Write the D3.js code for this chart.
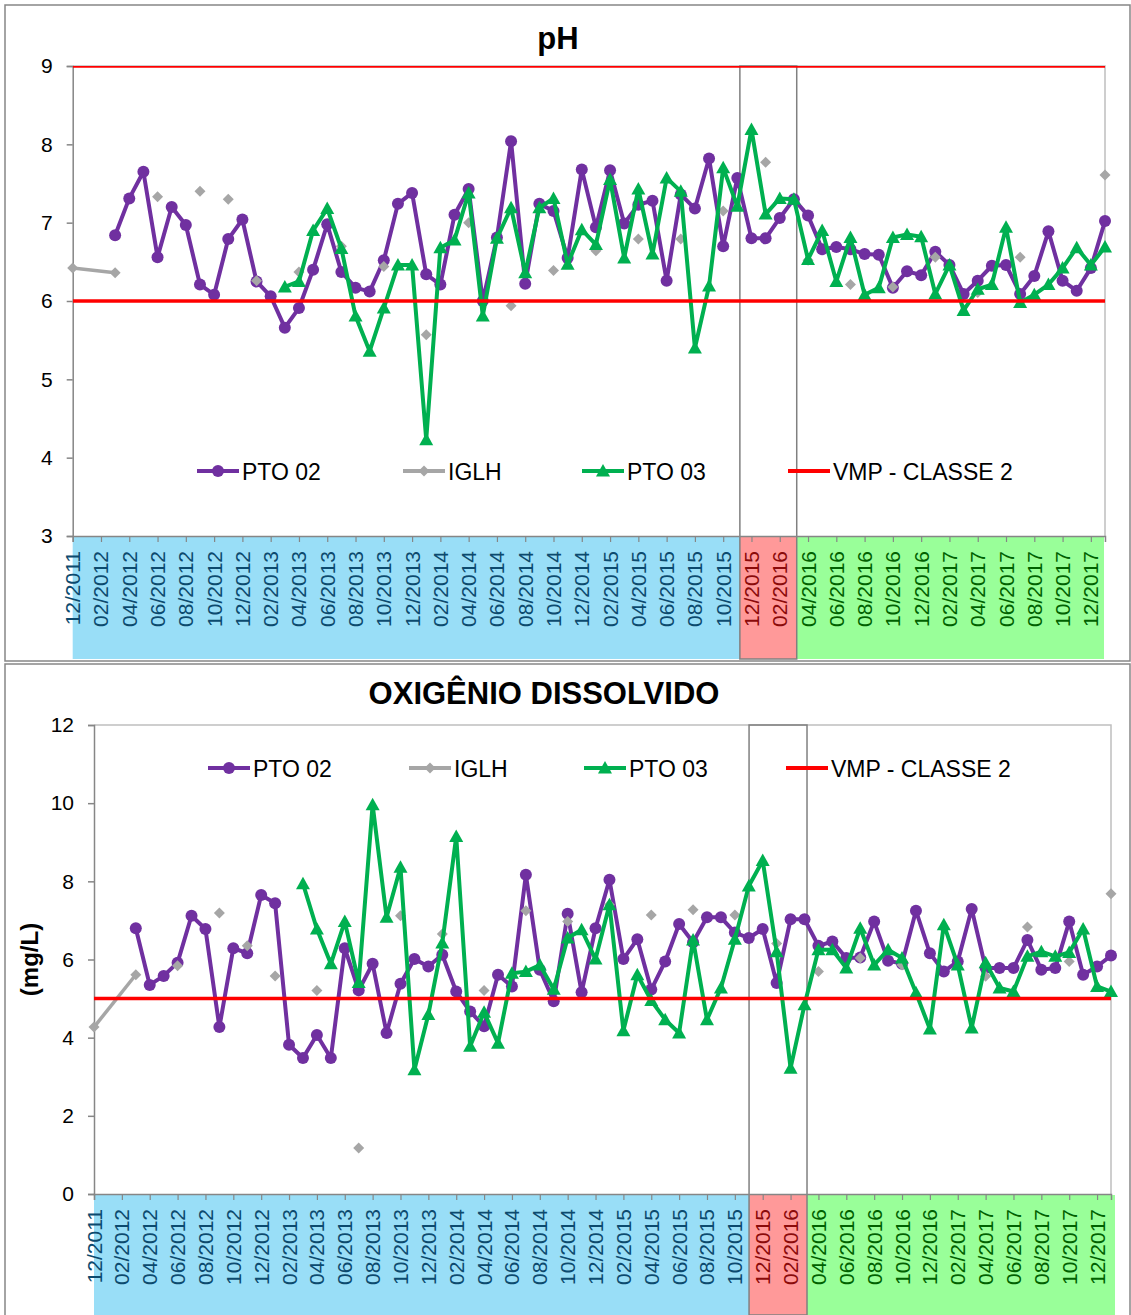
<!DOCTYPE html>
<html>
<head>
<meta charset="utf-8">
<script src="https://cdn.jsdelivr.net/npm/d3@7"></script>
<style>
  body { margin: 0; background: #fff; }
  text { font-family: "Liberation Sans", Arial, sans-serif; }
</style>
</head>
<body>
<svg id="chart" width="1131" height="1315"></svg>
<script>
// Months on the category axis (12/2011 .. 01/2018), one point per month
const months = [
  '12/2011',
  '01/2012','02/2012','03/2012','04/2012','05/2012','06/2012','07/2012','08/2012','09/2012','10/2012','11/2012','12/2012',
  '01/2013','02/2013','03/2013','04/2013','05/2013','06/2013','07/2013','08/2013','09/2013','10/2013','11/2013','12/2013',
  '01/2014','02/2014','03/2014','04/2014','05/2014','06/2014','07/2014','08/2014','09/2014','10/2014','11/2014','12/2014',
  '01/2015','02/2015','03/2015','04/2015','05/2015','06/2015','07/2015','08/2015','09/2015','10/2015','11/2015','12/2015',
  '01/2016','02/2016','03/2016','04/2016','05/2016','06/2016','07/2016','08/2016','09/2016','10/2016','11/2016','12/2016',
  '01/2017','02/2017','03/2017','04/2017','05/2017','06/2017','07/2017','08/2017','09/2017','10/2017','11/2017','12/2017',
  '01/2018'
];

// pH
const phPto02 = [
  null, null, null, 6.84, 7.31, 7.65, 6.56, 7.20, 6.97, 6.21, 6.08, 6.79, 7.04,
  6.25, 6.06, 5.66, 5.91, 6.40, 6.98, 6.37, 6.17, 6.12, 6.52, 7.24, 7.38,
  6.34, 6.21, 7.10, 7.43, 6.00, 6.81, 8.04, 6.22, 7.24, 7.15, 6.55, 7.68,
  6.94, 7.67, 6.99, 7.23, 7.28, 6.26, 7.36, 7.18, 7.82, 6.70, 7.57, 6.80,
  6.80, 7.06, 7.30, 7.09, 6.66, 6.69, 6.66, 6.60, 6.59, 6.17, 6.38, 6.33,
  6.63, 6.46, 6.09, 6.26, 6.45, 6.46, 6.09, 6.32, 6.89, 6.26, 6.13, 6.42,
  7.02
];
const phIglh = [
  6.42, null, null, 6.36, null, null, 7.33, null, null, 7.40, null, 7.30, null,
  6.26, null, null, 6.37, null, null, 6.70, null, null, 6.44, null, null,
  5.57, null, null, 7.00, null, null, 5.94, null, null, 6.39, null, null,
  6.64, null, null, 6.79, null, null, 6.79, null, null, 7.15, null, null,
  7.77, null, null, 6.52, null, null, 6.21, null, null, 6.18, null, null,
  6.56, null, null, 6.11, null, null, 6.56, null, null, null, null, null,
  7.61
];
const phPto03 = [
  null, null, null, null, null, null, null, null, null, null, null, null, null,
  null, null, 6.18, 6.25, 6.90, 7.18, 6.67, 5.81, 5.36, 5.91, 6.46, 6.46,
  4.23, 6.68, 6.78, 7.38, 5.81, 6.80, 7.19, 6.36, 7.19, 7.31, 6.47, 6.91,
  6.72, 7.55, 6.55, 7.43, 6.60, 7.57, 7.40, 5.40, 6.19, 7.70, 7.21, 8.19,
  7.11, 7.31, 7.30, 6.53, 6.90, 6.25, 6.81, 6.08, 6.17, 6.81, 6.85, 6.82,
  6.09, 6.46, 5.88, 6.15, 6.21, 6.94, 5.98, 6.08, 6.21, 6.42, 6.68, 6.46,
  6.69
];
const phVmp = [6, 9];
const phTicks = [3, 4, 5, 6, 7, 8, 9];

// Oxigênio dissolvido (mg/L)
const odPto02 = [
  null, null, null, 6.80, 5.35, 5.58, 5.92, 7.12, 6.78, 4.27, 6.29, 6.16, 7.65,
  7.44, 3.82, 3.48, 4.07, 3.48, 6.29, 5.21, 5.89, 4.12, 5.38, 6.01, 5.82,
  6.12, 5.18, 4.67, 4.29, 5.61, 5.31, 8.17, 5.74, 4.93, 7.17, 5.16, 6.80,
  8.04, 6.01, 6.52, 5.23, 5.95, 6.91, 6.44, 7.08, 7.08, 6.69, 6.55, 6.78,
  5.40, 7.03, 7.03, 6.35, 6.46, 6.04, 6.05, 6.97, 5.97, 5.89, 7.25, 6.16,
  5.69, 5.95, 7.29, 5.78, 5.78, 5.78, 6.50, 5.74, 5.78, 6.97, 5.61, 5.82,
  6.10
];
const odIglh = [
  4.27, null, null, 5.61, null, null, 5.84, null, null, 7.19, null, 6.35, null,
  5.58, null, null, 5.21, null, null, 1.18, null, null, 7.12, null, null,
  6.65, null, null, 5.21, null, null, 7.25, null, null, 6.97, null, null,
  7.40, null, null, 7.14, null, null, 7.27, null, null, 7.14, null, null,
  6.41, null, null, 5.69, null, null, 6.04, null, null, 5.86, null, null,
  6.80, null, null, 5.57, null, null, 6.83, null, null, 5.95, null, null,
  7.68
];
const odPto03 = [
  null, null, null, null, null, null, null, null, null, null, null, null, null,
  null, null, 7.94, 6.78, 5.89, 6.97, 5.41, 9.96, 7.08, 8.36, 3.18, 4.59,
  6.42, 9.15, 3.78, 4.65, 3.86, 5.65, 5.69, 5.86, 5.24, 6.55, 6.76, 6.01,
  7.40, 4.18, 5.61, 4.95, 4.46, 4.12, 6.50, 4.46, 5.27, 6.52, 7.88, 8.53,
  6.20, 3.22, 4.84, 6.25, 6.25, 5.78, 6.80, 5.86, 6.25, 6.04, 5.15, 4.22,
  6.89, 5.86, 4.25, 5.92, 5.27, 5.18, 6.08, 6.20, 6.08, 6.18, 6.78, 5.31,
  5.18
];
const odVmp = [5];
const odTicks = [0, 2, 4, 6, 8, 10, 12];

const seriesNames = ['PTO 02', 'IGLH', 'PTO 03', 'VMP - CLASSE 2'];

// ---- styling ----
const COLORS = {
  pto02: '#7030A0',
  iglh: '#A6A6A6',
  pto03: '#00B050',
  vmp: '#FF0000',
  axis: '#868686',
  frame: '#868686'
};
// colour bands behind the month labels: [fill, text colour]
const BANDS = [
  { fill: '#99DEF7', text: '#0C4A6E' },
  { fill: '#FF9999', text: '#8B0A0A' },
  { fill: '#99FF99', text: '#006100' }
];

const svg = d3.select('#chart');
svg.append('rect').attr('width', 1131).attr('height', 1315).attr('fill', '#fff');

const shapes = {
  circle: 'M6,0A6,6,0,1,1,-6,0A6,6,0,1,1,6,0Z',
  diamond: 'M0,-5.5L5.5,0L0,5.5L-5.5,0Z',
  triangle: 'M0,-7L7,5.5L-7,5.5Z'
};

/**
 * Draw one chart panel
 */
function drawPanel(cfg) {
  const g = svg.append('g');

  // outer frame
  g.append('rect')
    .attr('x', cfg.frame[0]).attr('y', cfg.frame[1])
    .attr('width', cfg.frame[2] - cfg.frame[0]).attr('height', cfg.frame[3] - cfg.frame[1])
    .attr('fill', 'none').attr('stroke', COLORS.frame).attr('stroke-width', 1.5);

  const x = d3.scalePoint().domain(months).range([cfg.x0, cfg.x1]);
  const step = x.step();
  const xi = i => cfg.x0 + i * step;
  const y = d3.scaleLinear().domain(cfg.domain).range([cfg.yBot, cfg.yTop]);

  // label bands under the x axis
  const edges = [cfg.x0, xi(cfg.breaks[0]), xi(cfg.breaks[1]), cfg.bandRight];
  BANDS.forEach((b, k) => {
    g.append('rect')
      .attr('x', edges[k]).attr('y', cfg.yBot + 1)
      .attr('width', edges[k + 1] - edges[k]).attr('height', cfg.bandBottom - cfg.yBot - 1)
      .attr('fill', b.fill);
  });

  // plot area border (top and right)
  g.append('path')
    .attr('d', `M${cfg.x0},${cfg.yTop}H${cfg.x1}V${cfg.yBot}`)
    .attr('fill', 'none').attr('stroke', '#BFBFBF').attr('stroke-width', 1.5);

  // highlighted period box
  g.append('rect')
    .attr('x', xi(cfg.breaks[0])).attr('y', cfg.yTop)
    .attr('width', xi(cfg.breaks[1]) - xi(cfg.breaks[0])).attr('height', cfg.bandBottom - cfg.yTop)
    .attr('fill', 'none').attr('stroke', '#808080').attr('stroke-width', 1.5);

  // y axis
  const yAxis = d3.axisLeft(y).tickValues(cfg.ticks).tickSize(6).tickPadding(14).tickFormat(d3.format('d'));
  const ya = g.append('g').attr('transform', `translate(${cfg.x0},0)`).call(yAxis);
  ya.select('.domain').attr('stroke', COLORS.axis).attr('stroke-width', 1.5);
  ya.selectAll('.tick line').attr('stroke', COLORS.axis).attr('stroke-width', 1.5);
  ya.selectAll('.tick text')
    .attr('font-size', 21).attr('fill', '#000')
    .style('font-family', '"Liberation Sans", Arial, sans-serif');

  // x axis (tick every second month, labels rotated)
  const shown = months.filter((m, i) => i % 2 === 0 && i < 73);
  const xAxis = d3.axisBottom(x).tickValues(shown).tickSize(6).tickFormat('');
  const xa = g.append('g').attr('transform', `translate(0,${cfg.yBot})`).call(xAxis);
  xa.select('.domain').attr('stroke', COLORS.axis).attr('stroke-width', 1.5);
  xa.selectAll('.tick line').attr('stroke', COLORS.axis).attr('stroke-width', 1.2);

  g.append('g').selectAll('text')
    .data(shown)
    .enter()
    .append('text')
    .attr('transform', d => `translate(${x(d) + 7.5},${cfg.yBot + 15}) rotate(-90)`)
    .attr('text-anchor', 'end')
    .attr('font-size', 21)
    .attr('fill', d => {
      const i = months.indexOf(d);
      if (i < cfg.breaks[0]) return BANDS[0].text;
      if (i < cfg.breaks[1]) return BANDS[1].text;
      return BANDS[2].text;
    })
    .text(d => d);

  // clip for series
  const clipId = 'clip' + cfg.id;
  svg.append('clipPath').attr('id', clipId)
    .append('rect')
    .attr('x', cfg.x0).attr('y', cfg.yTop)
    .attr('width', cfg.x1 - cfg.x0 + 8).attr('height', cfg.yBot - cfg.yTop);

  const plot = g.append('g');
  const line = d3.line()
    .defined(d => d != null)
    .x((d, i) => x(months[i]))
    .y(d => y(d));

  // PTO 02
  plot.append('path')
    .attr('d', line(cfg.pto02))
    .attr('fill', 'none').attr('stroke', COLORS.pto02)
    .attr('stroke-width', 4).attr('stroke-linejoin', 'round');
  plot.append('g').selectAll('path')
    .data(cfg.pto02.map((v, i) => ({ v, i })).filter(d => d.v != null))
    .enter().append('path')
    .attr('d', shapes.circle)
    .attr('transform', d => `translate(${x(months[d.i])},${y(d.v)})`)
    .attr('fill', COLORS.pto02);

  // IGLH: only the first two samples are joined by a line
  const iglhPts = cfg.iglh.map((v, i) => ({ v, i })).filter(d => d.v != null);
  plot.append('path')
    .attr('d', d3.line().x(d => x(months[d.i])).y(d => y(d.v))(iglhPts.slice(0, 2)))
    .attr('fill', 'none').attr('stroke', COLORS.iglh).attr('stroke-width', 3.5);
  plot.append('g').selectAll('path')
    .data(iglhPts)
    .enter().append('path')
    .attr('d', shapes.diamond)
    .attr('transform', d => `translate(${x(months[d.i])},${y(d.v)})`)
    .attr('fill', COLORS.iglh);

  // PTO 03
  plot.append('path')
    .attr('d', line(cfg.pto03))
    .attr('fill', 'none').attr('stroke', COLORS.pto03)
    .attr('stroke-width', 4).attr('stroke-linejoin', 'round');
  plot.append('g').selectAll('path')
    .data(cfg.pto03.map((v, i) => ({ v, i })).filter(d => d.v != null))
    .enter().append('path')
    .attr('d', shapes.triangle)
    .attr('transform', d => `translate(${x(months[d.i])},${y(d.v)})`)
    .attr('fill', COLORS.pto03);

  // VMP limits
  plot.append('g').attr('clip-path', `url(#${clipId})`)
    .selectAll('line')
    .data(cfg.vmp)
    .enter().append('line')
    .attr('x1', cfg.x0).attr('x2', cfg.x1)
    .attr('y1', d => y(d)).attr('y2', d => y(d))
    .attr('stroke', COLORS.vmp).attr('stroke-width', 3.5);

  // title
  g.append('text')
    .attr('x', cfg.titleX).attr('y', cfg.titleY)
    .attr('text-anchor', 'middle')
    .attr('font-size', 31).attr('font-weight', 'bold')
    .text(cfg.title);

  if (cfg.yLabel) {
    g.append('text')
      .attr('transform', `translate(${cfg.yLabelX},${(cfg.yTop + cfg.yBot) / 2}) rotate(-90)`)
      .attr('text-anchor', 'middle')
      .attr('font-size', 24).attr('font-weight', 'bold')
      .text(cfg.yLabel);
  }

  // legend
  const legendShapes = ['circle', 'diamond', 'triangle', null];
  const legendColors = [COLORS.pto02, COLORS.iglh, COLORS.pto03, COLORS.vmp];
  const leg = g.append('g').attr('transform', `translate(0,${cfg.legendY})`);
  seriesNames.forEach((name, k) => {
    const lx = cfg.legendX[k];
    leg.append('line')
      .attr('x1', lx).attr('x2', lx + 42).attr('y1', 0).attr('y2', 0)
      .attr('stroke', legendColors[k]).attr('stroke-width', 4);
    if (legendShapes[k]) {
      leg.append('path')
        .attr('d', shapes[legendShapes[k]])
        .attr('transform', `translate(${lx + 21},0)`)
        .attr('fill', legendColors[k]);
    }
    leg.append('text')
      .attr('x', lx + 45).attr('y', 8.5)
      .attr('font-size', 23)
      .text(name);
  });
}

drawPanel({
  id: 'ph',
  frame: [5, 5, 1130, 661],
  x0: 72.7, x1: 1105, yTop: 66, yBot: 536,
  bandRight: 1104, bandBottom: 659,
  breaks: [47.18, 51.2],
  domain: [3, 9], ticks: phTicks,
  pto02: phPto02, iglh: phIglh, pto03: phPto03, vmp: phVmp,
  title: 'pH', titleX: 558, titleY: 49,
  legendY: 471, legendX: [197, 403, 582, 788]
});

drawPanel({
  id: 'od',
  frame: [5, 664, 1130, 1316],
  x0: 94, x1: 1111, yTop: 725, yBot: 1194,
  bandRight: 1115, bandBottom: 1315,
  breaks: [47.02, 51.18],
  domain: [0, 12], ticks: odTicks,
  pto02: odPto02, iglh: odIglh, pto03: odPto03, vmp: odVmp,
  title: 'OXIGÊNIO DISSOLVIDO', titleX: 544, titleY: 704,
  yLabel: '(mg/L)', yLabelX: 38,
  legendY: 768, legendX: [208, 409, 584, 786]
});
</script>
</body>
</html>
